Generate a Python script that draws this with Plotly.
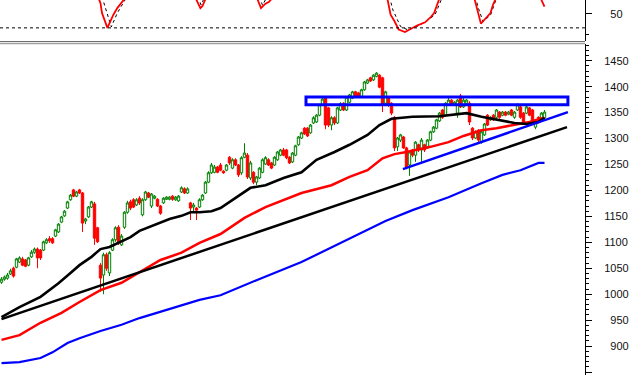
import plotly.graph_objects as go

# ---------------- data ----------------
open_ = [1023,1029,1031,1039,1050,1052,1062,1068,1066,1056,
         1072,1081,1087,1085,1085,1099,1107,1107,1112,1120,
         1139,1151,1166,1182,1201,1189,1201,1195,1141,1149,
         1168,1174,1128,1056,1037,1076,1041,1085,1105,1129,
         1095,1129,1158,1178,1182,1172,1185,1153,1182,1195,
         1170,1185,1183,1170,1176,1183,1183,1189,1182,1180,
         1197,1203,1195,1176,1168,1166,1168,1182,1195,1216,
         1234,1235,1245,1249,1237,1239,1264,1243,1259,1249,
         1234,1264,1268,1224,1235,1216,1224,1235,1251,1259,
         1253,1249,1259,1268,1278,1278,1264,1255,1268,1288,
         1301,1320,1320,1311,1330,1332,1345,1365,1378,1359,
         1326,1340,1330,1355,1368,1355,1370,1378,1390,1388,
         1380,1394,1407,1417,1413,1420,1422,1417,1368,1378,
         1368,1341,1284,1297,1303,1282,1249,1278,1268,1288,
         1278,1288,1282,1297,1313,1320,1334,1355,1345,1365,
         1374,1365,1349,1382,1361,1368,1368,1320,1301,1316,
         1293,1307,1345,1336,1345,1341,1351,1345,1351,1347,
         1355,1341,1355,1361,1349,1349,1359,1355,1322,1341,
         1340,1340]
close = [1029,1033,1037,1045,1035,1068,1070,1056,1054,1070,
         1081,1087,1070,1070,1101,1105,1103,1099,1124,1135,
         1149,1160,1178,1191,1189,1197,1195,1137,1145,1168,
         1178,1108,1101,1031,1076,1050,1080,1105,1128,1101,
         1112,1158,1176,1166,1168,1182,1176,1182,1197,1187,
         1193,1189,1170,1156,1185,1187,1187,1183,1187,1189,
         1205,1195,1203,1166,1172,1162,1182,1191,1216,1234,
         1249,1245,1235,1239,1234,1249,1253,1259,1249,1230,
         1263,1272,1226,1253,1216,1226,1243,1259,1263,1249,
         1243,1264,1274,1278,1268,1263,1253,1272,1286,1303,
         1311,1309,1305,1326,1340,1345,1365,1376,1326,1326,
         1340,1330,1359,1367,1355,1380,1384,1390,1380,1382,
         1394,1409,1413,1411,1422,1426,1399,1365,1390,1365,
         1349,1282,1301,1307,1282,1245,1274,1268,1293,1278,
         1297,1278,1297,1313,1322,1336,1349,1341,1368,1374,
         1365,1370,1374,1361,1374,1374,1332,1301,1313,1297,
         1313,1328,1326,1341,1336,1355,1341,1351,1345,1351,
         1345,1351,1365,1341,1332,1361,1345,1332,1336,1332,
         1349,1351]
high = [1033,1036,1041,1049,1053,1070,1073,1072,1068,1072,
        1085,1090,1090,1087,1103,1108,1112,1110,1126,1137,
        1151,1162,1180,1193,1203,1199,1203,1197,1147,1170,
        1180,1178,1130,1060,1080,1080,1083,1108,1131,1133,
        1116,1160,1180,1182,1185,1185,1189,1185,1199,1197,
        1195,1191,1185,1172,1187,1189,1189,1191,1189,1191,
        1208,1206,1206,1178,1176,1168,1185,1193,1218,1237,
        1253,1249,1247,1253,1239,1251,1266,1262,1262,1251,
        1266,1291,1272,1257,1237,1228,1245,1262,1266,1262,
        1255,1266,1276,1280,1282,1280,1266,1274,1288,1305,
        1313,1322,1322,1328,1343,1347,1367,1378,1380,1361,
        1343,1343,1361,1370,1370,1382,1386,1392,1392,1390,
        1396,1411,1415,1419,1424,1428,1424,1419,1392,1380,
        1370,1343,1303,1309,1305,1284,1276,1280,1295,1290,
        1301,1290,1299,1315,1324,1338,1351,1357,1370,1378,
        1376,1372,1376,1386,1378,1376,1372,1322,1316,1318,
        1316,1330,1347,1343,1347,1357,1353,1353,1353,1353,
        1357,1353,1368,1363,1351,1363,1361,1357,1338,1343,
        1351,1355]
low = [1020,1026,1028,1037,1032,1050,1060,1054,1052,1054,
       1070,1078,1050,1066,1083,1097,1099,1097,1110,1118,
       1137,1149,1164,1180,1187,1187,1193,1120,1135,1147,
       1166,1095,1099,1005,1000,1045,1035,1083,1101,1095,
       1093,1126,1155,1162,1166,1170,1172,1150,1180,1185,
       1166,1183,1168,1153,1174,1182,1181,1180,1180,1178,
       1195,1193,1193,1143,1160,1143,1166,1180,1193,1214,
       1232,1233,1233,1237,1232,1237,1249,1241,1247,1226,
       1230,1262,1222,1220,1212,1210,1222,1233,1249,1247,
       1241,1247,1257,1266,1266,1260,1251,1253,1266,1286,
       1299,1307,1303,1309,1328,1330,1343,1363,1318,1322,
       1316,1326,1328,1353,1353,1353,1368,1376,1378,1380,
       1378,1392,1405,1409,1411,1418,1397,1351,1365,1361,
       1345,1276,1276,1293,1280,1241,1228,1264,1255,1274,
       1255,1274,1280,1295,1311,1318,1332,1338,1343,1363,
       1363,1363,1340,1359,1359,1365,1326,1297,1299,1293,
       1290,1305,1324,1334,1334,1338,1338,1343,1343,1345,
       1343,1338,1353,1338,1328,1347,1343,1328,1318,1330,
       1338,1338]
bars = list(range(len(close)))

ma_black_x = [0,6,13,19,23,26,30,33,36,40,43,46,50,53,56,60,63,66,70,73,
              77,83,88,94,100,105,111,116,122,126,130,137,146,155,160,165,171,175,179,181]
ma_black_y = [956,975,995,1021,1041,1056,1072,1087,1091,1101,1110,1122,1131,1137,1145,1151,1158,1158,1160,1166,
              1182,1205,1210,1224,1235,1259,1274,1288,1307,1326,1338,1342,1343,1349,1342,1336,1330,1328,1332,1340]
ma_red_x = [0,6,13,20,26,33,40,46,53,60,66,73,81,88,100,110,116,122,127,131,
            135,143,149,154,160,165,171,176,181]
ma_red_y = [912,921,945,964,985,1008,1022,1043,1066,1080,1099,1116,1147,1168,1195,1210,1226,1239,1262,1270,
            1274,1284,1293,1305,1316,1320,1326,1332,1340]
ma_blue_x = [0,6,13,17,22,26,33,40,46,53,60,66,73,80,85,100,116,128,137,149,160,167,173,179,181]
ma_blue_y = [867,869,877,888,906,915,929,941,954,966,979,989,998,1014,1027,1062,1108,1141,1162,1187,
             1214,1230,1239,1253,1253]

trend_black_x = [0, 188.5]
trend_black_y = [952, 1322]
trend_blue_x = [133.8, 188.8]
trend_blue_y = [1241, 1351]
box_x = [101.5, 188.8]
box_y = [1365, 1380]

osc_x = [32, 33, 33.5, 35.3, 37.3, 38.6, 40.7, 41.5, None,
         64.5, 65.6, 66.3, 67, 67.7, 68.3, None,
         85, 86.5, 87.9, 89.2, 90.2, None,
         128.5, 129.7, 131, 132.4, 134.5, 136.5, 138.5, 141.2, 142.8, 144.2, 145.2, 146, None,
         157.5, 158.5, 159.8, 161.5, 163, 163.8, 164.8, None,
         179.5, 180.3, 181]
osc_y = [76, 65, 51, 30, 48.6, 58, 69.5, 74, None,
         74, 62.5, 58, 61, 69.5, 74, None,
         74, 58, 64, 67, 72, None,
         74, 48.6, 39.3, 27.7, 24, 28.6, 33.3, 37.9, 44, 51, 65, 72, None,
         74, 58, 36, 44, 51, 62.5, 72, None,
         74, 65, 60]
sig_x = [33.5, 34.5, 36.6, 38.6, 40, 41.5, None,
         65.5, 66.5, 67.8, None,
         86, 87, 88.5, None,
         129.3, 130.5, 133, 135.5, 138.5, 142, 144.5, 146, 147, None,
         158, 158.8, 160.5, 163, 165]
sig_y = [74, 60, 31.4, 51, 62.5, 72, None,
         74, 62.5, 74, None,
         74, 62, 74, None,
         74, 55, 32, 27, 32, 40.7, 48.6, 65, 74, None,
         74, 60, 39, 48, 72]
osc_level = 30

price_ticks = [850, 900, 950, 1000, 1050, 1100, 1150, 1200, 1250, 1300, 1350, 1400, 1450]

# ---------------- layout geometry ----------------
W, H = 635, 375
plot_right = 585 / W
top_dom = [1 - 41 / H, 1.0]
main_dom = [0.0, 1 - 44 / H]
FONT = dict(family="Liberation Sans, Arial, sans-serif", size=11, color="#111111")

fig = go.Figure()

fig.add_trace(go.Candlestick(
    x=bars, open=open_, high=high, low=low, close=close,
    increasing=dict(line=dict(color="#008000", width=1), fillcolor="#ffffff"),
    decreasing=dict(line=dict(color="#ff0000", width=1), fillcolor="#ff0000"),
    whiskerwidth=0, xaxis="x", yaxis="y", hoverinfo="skip"))

for xs, ys, col, w in [(ma_blue_x, ma_blue_y, "#0000ff", 2.2),
                       (ma_red_x, ma_red_y, "#ff0000", 2.5),
                       (ma_black_x, ma_black_y, "#000000", 2.6)]:
    fig.add_trace(go.Scatter(x=xs, y=ys, mode="lines", line=dict(color=col, width=w),
                             xaxis="x", yaxis="y", hoverinfo="skip"))

fig.add_trace(go.Scatter(x=trend_black_x, y=trend_black_y, mode="lines",
                         line=dict(color="#000000", width=2.5), xaxis="x", yaxis="y"))
fig.add_trace(go.Scatter(x=trend_blue_x, y=trend_blue_y, mode="lines",
                         line=dict(color="#0000ff", width=2.5), xaxis="x", yaxis="y"))

fig.add_trace(go.Scatter(x=sig_x, y=sig_y, mode="lines", connectgaps=False,
                         line=dict(color="#000000", width=1, dash="dot"), xaxis="x2", yaxis="y2"))
fig.add_trace(go.Scatter(x=osc_x, y=osc_y, mode="lines", connectgaps=False,
                         line=dict(color="#ff0000", width=1.8), xaxis="x2", yaxis="y2"))

shapes = [
    dict(type="rect", xref="x", yref="y", x0=box_x[0], x1=box_x[1], y0=box_y[0], y1=box_y[1],
         line=dict(color="#0000ff", width=3), fillcolor="rgba(0,0,0,0)"),
    dict(type="line", xref="paper", yref="y2", x0=0, x1=plot_right, y0=osc_level, y1=osc_level,
         line=dict(color="#000000", width=1, dash="dot")),
    dict(type="line", xref="paper", yref="paper", x0=0, x1=plot_right,
         y0=1 - 41.5 / H, y1=1 - 41.5 / H, line=dict(color="#707070", width=1)),
    dict(type="line", xref="paper", yref="paper", x0=0, x1=plot_right,
         y0=1 - 43.5 / H, y1=1 - 43.5 / H, line=dict(color="#a0a0a0", width=1.5)),
]

ticktext = [("\u2007" + str(v)) if v < 1000 else str(v) for v in price_ticks]

fig.update_layout(
    width=W, height=H, margin=dict(l=0, r=0, t=0, b=0),
    paper_bgcolor="white", plot_bgcolor="white", showlegend=False,
    hovermode=False, font=FONT, shapes=shapes, boxgap=0.2, boxgroupgap=0,
    xaxis=dict(domain=[0, plot_right], range=[-0.5, 194.5], visible=False,
               anchor="y", rangeslider=dict(visible=False), fixedrange=True),
    xaxis2=dict(domain=[0, plot_right], range=[-0.5, 194.5], visible=False,
                anchor="y2", matches="x"),
    yaxis=dict(domain=main_dom, range=[844.3, 1482.2], side="right", anchor="x",
               showgrid=False, zeroline=False, showline=True, linecolor="#000000", linewidth=1,
               ticks="outside", ticklen=6, tickcolor="#000000", tickwidth=1,
               tickmode="array", tickvals=price_ticks, ticktext=ticktext,
               ticklabelstandoff=10, tickfont=FONT,
               minor=dict(ticks="outside", ticklen=3, tickcolor="#000000",
                          tickmode="linear", tick0=0, dtick=10)),
    yaxis2=dict(domain=top_dom, range=[11.4, 69.5], side="right", anchor="x2",
                showgrid=False, zeroline=False, showline=True, linecolor="#000000", linewidth=1,
                ticks="outside", ticklen=6, tickcolor="#000000",
                tickmode="array", tickvals=[50], ticktext=["\u200750"],
                ticklabelstandoff=10, tickfont=FONT,
                minor=dict(ticks="outside", ticklen=3, tickcolor="#000000",
                           tickmode="array", tickvals=[20])),
)

fig.write_html("out.html", config={"displayModeBar": False})
